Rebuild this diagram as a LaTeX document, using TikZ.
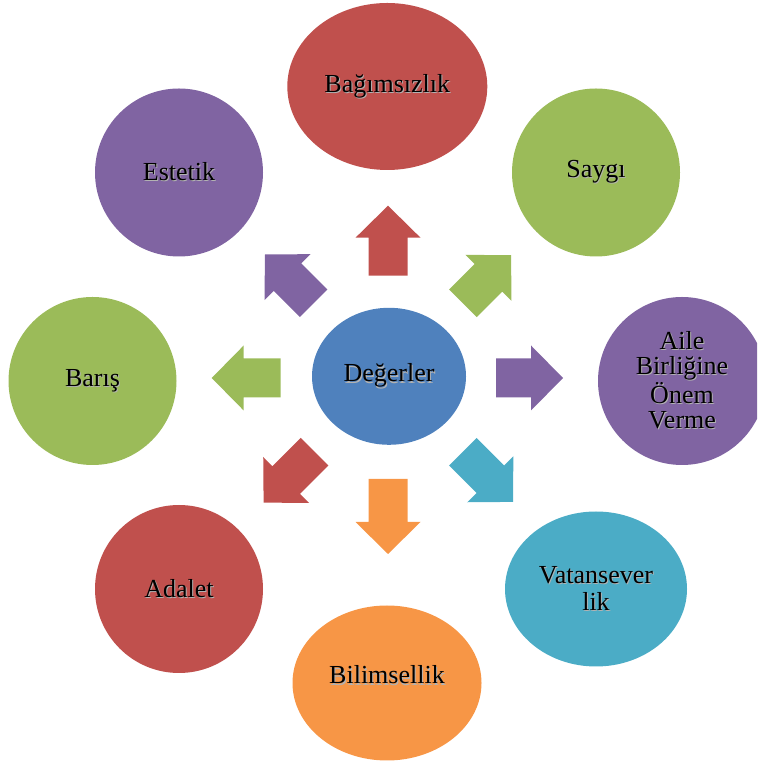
\documentclass[tikz,border=0pt]{standalone}
\usepackage{fontspec}
\setmainfont{Liberation Serif}
\usetikzlibrary{shapes.geometric}
\definecolor{cred}{HTML}{C0504D}
\definecolor{cgreen}{HTML}{9BBB59}
\definecolor{cpurple}{HTML}{8064A2}
\definecolor{cblue}{HTML}{4F81BD}
\definecolor{cteal}{HTML}{4BACC6}
\definecolor{corange}{HTML}{F79646}
\newcommand\shd[1]{\makebox[0pt][l]{\hspace{1pt}\raisebox{-1.2pt}{\color{black!30}#1}}#1}
% x, y, angle, length, colour
\newcommand\blkarrow[5]{%
  \fill[#5, shift={(#1,#2)}, rotate=#3]
    (0,-19.5) -- ({#4-32},-19.5) -- ({#4-32},-32.5) -- (#4,0)
    -- ({#4-32},32.5) -- ({#4-32},19.5) -- (0,19.5) -- cycle;}
\begin{document}
\begin{tikzpicture}[x=1pt,y=1pt,
  circ/.style={ellipse, inner sep=0pt, align=center,
    font=\fontsize{26}{26}\selectfont, text=black},
  lbl/.style={inner sep=0pt, align=center,
    font=\fontsize{26}{26}\selectfont, text=black}]
\useasboundingbox (0,0) rectangle (757,762);
\clip (0,0) rectangle (757,762);
% central node
\node[circ, fill=cblue, minimum width=154, minimum height=137] (deg) at (389,385.7) {\shd{Değerler}};
% outer nodes
\node[circ, fill=cred, minimum width=200, minimum height=167] (bag) at (387.3,675.5) {\shd{Bağımsızlık}};
\node[circ, fill=cgreen, minimum width=168, minimum height=168] (say) at (596,589.5) {\shd{Saygı}};
\node[circ, fill=cpurple, minimum width=168, minimum height=168, font=\fontsize{26}{25}\selectfont] (aile) at (682,381) {\shd{Aile}\\\shd{Birliğine}\\\shd{Önem}\\\shd{Verme}};
\node[circ, fill=cteal, minimum width=182, minimum height=155, font=\fontsize{26}{27}\selectfont] (vat) at (596,173) {\shd{Vatansever}\\\shd{lik}};
\node[circ, fill=corange, minimum width=189, minimum height=155] (bil) at (387,79) {};
\node[lbl] (biltxt) at (387,86.3) {\shd{Bilimsellik}};
\node[circ, fill=cred, minimum width=168, minimum height=168] (ada) at (179,173) {\shd{Adalet}};
\node[circ, fill=cgreen, minimum width=168, minimum height=168] (bar) at (92.5,381) {\shd{Barış}};
\node[circ, fill=cpurple, minimum width=168, minimum height=168] (est) at (179,589.5) {\shd{Estetik}};
% block arrows
\blkarrow{388}{486.3}{90}{70}{cred}
\blkarrow{388}{283}{-90}{75}{corange}
\blkarrow{280.7}{384}{180}{69}{cgreen}
\blkarrow{496}{384}{0}{67}{cpurple}
\blkarrow{313.7}{458.7}{135}{69}{cpurple}
\blkarrow{463}{458.7}{45}{68}{cgreen}
\blkarrow{314.5}{310.3}{225}{72}{cred}
\blkarrow{462.8}{310.3}{-45}{71}{cteal}
\end{tikzpicture}
\end{document}
